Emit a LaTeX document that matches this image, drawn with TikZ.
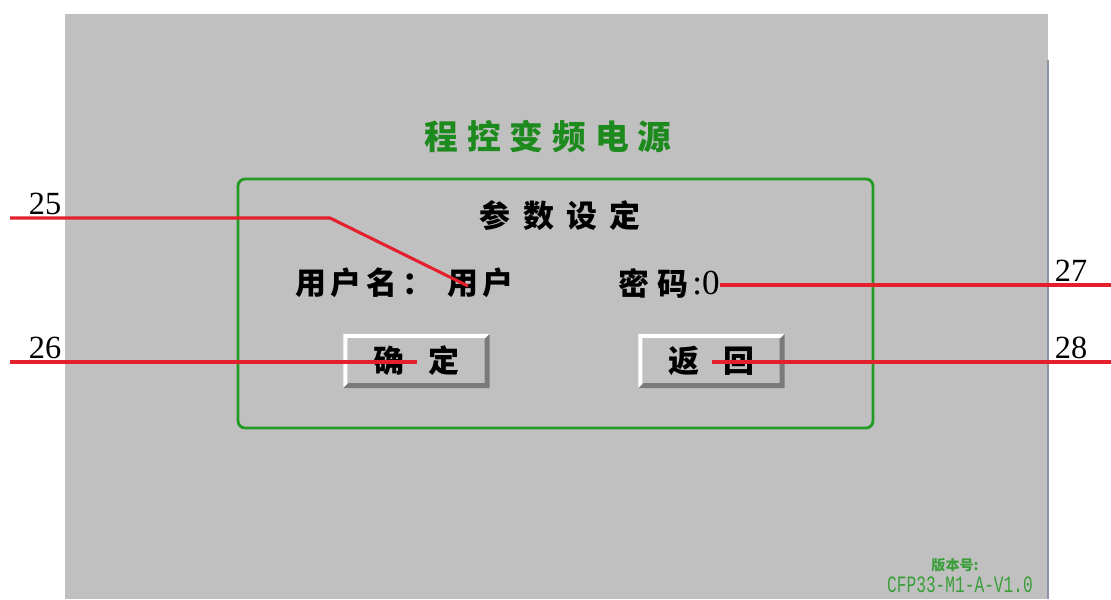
\documentclass[tikz,border=0pt]{standalone}
\usepackage{fontspec}
\usepackage{graphicx}
\newfontfamily\cjk{Noto Sans CJK SC}
\newfontfamily\numfont{Liberation Serif}
\setmonofont{Liberation Mono}
\usetikzlibrary{positioning,calc}

\definecolor{scrgray}{HTML}{C0C0C0}
\definecolor{framegreen}{HTML}{239A23}
\definecolor{titlegreen}{HTML}{1C8A1C}
\definecolor{leadred}{HTML}{E3202C}
\definecolor{vergreen}{HTML}{3A9F3A}
\definecolor{btnlo}{HTML}{7A7A7A}
\definecolor{edgeblue}{HTML}{8A94A6}

\tikzset{
  lead/.style={leadred, line width=2.2pt},
  callno/.style={font=\numfont\fontsize{23}{23}\selectfont, inner sep=1pt, anchor=south},
  cjktext/.style={font=\cjk\bfseries\fontsize{22}{22}\selectfont, inner sep=0pt},
  btn/.style={cjktext, minimum width=3.65cm, minimum height=1.35cm, fill=scrgray,
    path picture={
      \coordinate (bsw) at (path picture bounding box.south west);
      \coordinate (bnw) at (path picture bounding box.north west);
      \coordinate (bne) at (path picture bounding box.north east);
      \coordinate (bse) at (path picture bounding box.south east);
      \fill[white] (bsw) -- (bnw) -- (bne) -- ($(bne)+(-4,4)$) -- ($(bnw)+(4,4)$)
        -- ($(bsw)+(4,-4)$) -- cycle;
      \fill[btnlo] (bne) -- (bse) -- (bsw) -- ($(bsw)+(5,-5)$) -- ($(bse)+(-5,-5)$)
        -- ($(bne)+(-5,5)$) -- cycle;
    }}
}

\begin{document}
\begin{tikzpicture}[x=0.025cm, y=-0.025cm]
  \useasboundingbox (0,0) rectangle (1111,599);
  \fill[white] (0,0) rectangle (1111,599);

  % screen
  \fill[scrgray] (65,14) rectangle (1048,599);
  \draw[edgeblue, line width=1.2pt] (1048,60) -- (1048,599);

  \node[cjktext, titlegreen, font=\cjk\bfseries\fontsize{24}{24}\selectfont]
    (title) at (548,137) {\makebox[6.175cm][s]{程 控 变 频 电 源}};

  % panel
  \draw[framegreen, line width=2pt, rounded corners=5pt] (238,179) rectangle (873,428);
  \node[cjktext] (head) at (560,216) {\makebox[4cm][s]{参 数 设 定}};

  \node[cjktext, anchor=west] (ulab) at (295,283) {\makebox[3.2cm][s]{用 户 名 ：}};
  \node[cjktext, anchor=west] (uval) at (447,283) {\makebox[1.625cm][s]{用 户}};
  \node[cjktext, anchor=west] (plab) at (618,283) {\makebox[1.75cm][s]{密 码}};
  \node[inner sep=0pt, anchor=west, font=\numfont\fontsize{25}{25}\selectfont]
    (pval) at (692,283) {:0};

  \node[btn] (ok) at (416.5,361) {\makebox[2.15cm][s]{确 定}};
  \node[btn] (back) at (711.5,361) {\makebox[2.15cm][s]{返 回}};

  % version
  \node[cjktext, vergreen, font=\cjk\bfseries\fontsize{10}{10}\selectfont]
    (verlab) at (955,565) {版本号:};
  \node[inner sep=0pt, vergreen, font=\ttfamily\fontsize{11.5}{11.5}\selectfont]
    (ver) at (960,585) {\scalebox{1}[1.45]{CFP33-M1-A-V1.0}};

  % leaders
  \coordinate (e25) at (10,218); \coordinate (k25) at (330,218);
  \coordinate (t25) at (468,286);
  \coordinate (e26) at (10,362);
  \coordinate (e27) at (1111,285); \coordinate (e28) at (1111,362);

  \draw[lead] (e25) -- (k25) -- (t25);
  \draw[lead] (e26) -- (e26 -| ok.center);
  \draw[lead] (pval.east |- e27) -- (e27);
  \draw[lead] (back.center |- e28) -- (e28);

  \node[callno] (n25) at (45,216) {25};
  \node[callno] (n26) at (45,360) {26};
  \node[callno] (n27) at (1071,283) {27};
  \node[callno] (n28) at (1071,360) {28};

\end{tikzpicture}
\end{document}
